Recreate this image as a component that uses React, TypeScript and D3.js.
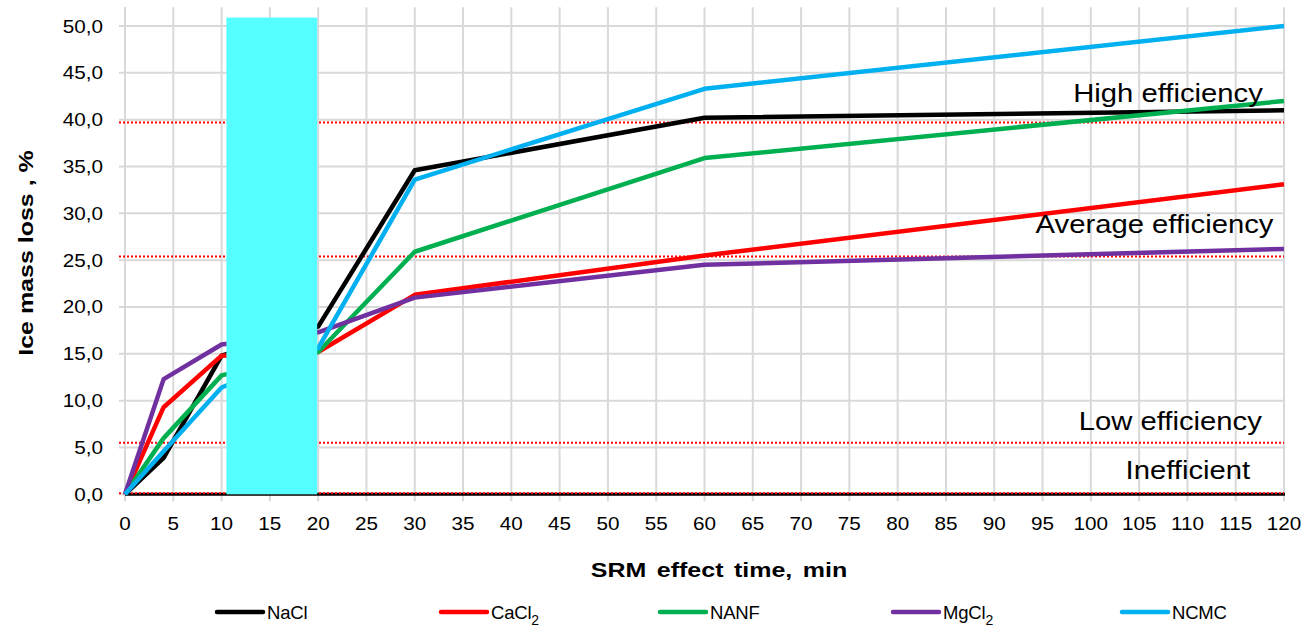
import React from "react";
import * as d3 from "d3";

// effect time, min
const times = [0, 4, 10, 20, 30, 60, 120];

// ice mass loss, %
const naclValues = [0, 3.9, 14.8, 17.9, 34.6, 40.2, 41.0];
const cacl2Values = [0, 9.3, 14.8, 15.2, 21.3, 25.5, 33.1];
const nanfValues = [0, 6.0, 12.7, 15.2, 25.9, 35.9, 42.0];
const mgcl2Values = [0, 12.3, 16.0, 17.3, 21.0, 24.5, 26.2];
const ncmcValues = [0, 4.6, 11.4, 15.6, 33.6, 43.3, 50.0];

const xTicks = d3.range(0, 121, 5);
const yTicks = d3.range(0, 51, 5);

// efficiency thresholds
const thresholds = [
  { label: "High efficiency", value: 39.7, labelValue: 41.9, at: 117.8 },
  { label: "Average efficiency", value: 25.4, labelValue: 27.9, at: 118.9 },
  { label: "Low efficiency", value: 5.5, labelValue: 6.9, at: 117.7 },
  { label: "Inefficient", value: 0, labelValue: 1.6, at: 116.5 },
];

// shaded interval
const band = { from: 10.5, to: 19.9, top: 50.9 };

const series = [
  { name: "NaCl", sub: "", values: naclValues, color: "#000000" },
  { name: "CaCl", sub: "2", values: cacl2Values, color: "#ff0000" },
  { name: "NANF", sub: "", values: nanfValues, color: "#00b050" },
  { name: "MgCl", sub: "2", values: mgcl2Values, color: "#7030a0" },
  { name: "NCMC", sub: "", values: ncmcValues, color: "#00b0f0" },
];

const legendX = [217, 441, 660, 893, 1122];

const fmt = (v: number) => v.toFixed(1).replace(".", ",");

export default function App() {
  const width = 1310;
  const height = 630;
  const left = 125;
  const right = 1284;
  const top = 7.3;
  const bottom = 494.3;

  const x = d3.scaleLinear().domain([0, 120]).range([left, right]);
  const y = d3.scaleLinear().domain([0, 52]).range([bottom, top]);

  const line = d3
    .line<number>()
    .x((_, i) => x(times[i]))
    .y((d) => y(d));

  const font = "'Liberation Sans', Arial, sans-serif";
  const grid = "#d9d9d9";

  return (
    <svg
      width={width}
      height={height}
      style={{ position: "absolute", left: 0, top: 0, background: "#fff" }}
      fontFamily={font}
    >
      {/* grid */}
      {yTicks.map((t) => (
        <line key={"h" + t} x1={left - 6} x2={right} y1={y(t)} y2={y(t)} stroke={grid} strokeWidth={2} />
      ))}
      {xTicks.map((t) => (
        <line key={"v" + t} x1={x(t)} x2={x(t)} y1={top} y2={bottom + 7} stroke={grid} strokeWidth={2} />
      ))}
      <line x1={left} x2={left} y1={top} y2={bottom} stroke={grid} strokeWidth={2} />
      <line x1={left} x2={right + 1} y1={bottom} y2={bottom} stroke="#000" strokeWidth={3} />

      {/* thresholds */}
      {thresholds.map((t) => (
        <line
          key={t.label}
          x1={left - 6}
          x2={right}
          y1={y(t.value) - (t.value === 0 ? 1 : 0)}
          y2={y(t.value) - (t.value === 0 ? 1 : 0)}
          stroke="#ff0000"
          strokeWidth={2}
          strokeDasharray="2,2"
        />
      ))}

      {/* series */}
      {series.map((s) => (
        <path
          key={s.name}
          d={line(s.values) || ""}
          fill="none"
          stroke={s.color}
          strokeWidth={4.5}
          strokeLinejoin="round"
        />
      ))}

      {/* highlighted interval */}
      <rect
        x={x(band.from)}
        y={y(band.top)}
        width={x(band.to) - x(band.from)}
        height={bottom - y(band.top)}
        fill="#55ffff"
      />

      {/* threshold labels */}
      {thresholds.map((t) => (
        <text
          key={"l" + t.label}
          transform={`translate(${x(t.at)},${y(t.labelValue)}) scale(1.17,1)`}
          textAnchor="end"
          fontSize={25}
          fill="#000"
        >
          {t.label}
        </text>
      ))}

      {/* y tick labels */}
      {yTicks.map((t) => (
        <text
          key={"yl" + t}
          transform={`translate(103,${y(t) + 6.5}) scale(1.15,1)`}
          textAnchor="end"
          fontSize={18}
          fill="#000"
        >
          {fmt(t)}
        </text>
      ))}

      {/* x tick labels */}
      {xTicks.map((t) => (
        <text
          key={"xl" + t}
          transform={`translate(${x(t)},530) scale(1.15,1)`}
          textAnchor="middle"
          fontSize={18}
          fill="#000"
        >
          {t}
        </text>
      ))}

      {/* axis titles */}
      <text
        transform="translate(719,577) scale(1.19,1)"
        textAnchor="middle"
        fontSize={21}
        fontWeight="bold"
        wordSpacing={3}
      >
        SRM effect time, min
      </text>
      <text
        transform="translate(33,253) rotate(-90) scale(1.19,1)"
        textAnchor="middle"
        fontSize={21}
        fontWeight="bold"
      >
        Ice mass loss , %
      </text>

      {/* legend */}
      {series.map((s, i) => (
        <g key={"lg" + s.name} transform={`translate(${legendX[i]},612)`}>
          <line x1={0} x2={46} y1={0} y2={0} stroke={s.color} strokeWidth={4.5} strokeLinecap="round" />
          <text x={50} y={6.5} fontSize={18.5} letterSpacing={-0.2} fill="#000">
            {s.name}
            {s.sub && (
              <tspan fontSize={14} dy={6}>
                {s.sub}
              </tspan>
            )}
          </text>
        </g>
      ))}
    </svg>
  );
}
